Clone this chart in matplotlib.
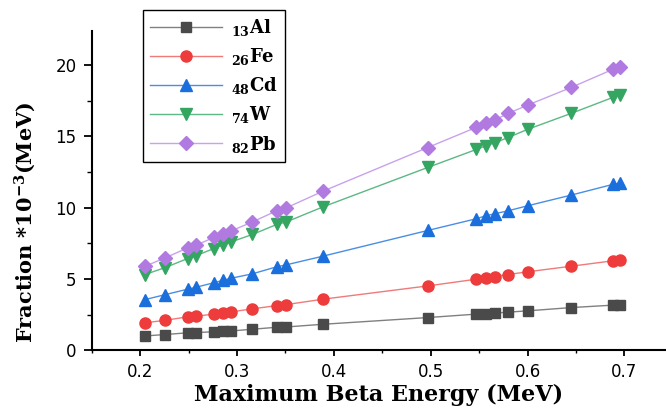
import numpy as np
import matplotlib
matplotlib.use("Agg")
import matplotlib.pyplot as plt
from matplotlib.ticker import MultipleLocator

plt.rcParams['mathtext.fontset'] = 'dejavuserif'
plt.rcParams['mathtext.default'] = 'bf'

# maximum beta energy (MeV)
energy = [0.205, 0.226, 0.249, 0.258, 0.276, 0.286, 0.294, 0.316, 0.341, 0.351,
          0.389, 0.497, 0.547, 0.557, 0.566, 0.580, 0.600, 0.645, 0.688, 0.696]

# fraction *10^-3 for each absorber
al = [1.00, 1.10, 1.22, 1.24, 1.29, 1.33, 1.35, 1.47, 1.61, 1.63,
      1.82, 2.29, 2.53, 2.56, 2.60, 2.67, 2.76, 2.99, 3.16, 3.20]
fe = [1.92, 2.10, 2.34, 2.39, 2.53, 2.62, 2.69, 2.90, 3.13, 3.20,
      3.58, 4.51, 4.98, 5.08, 5.17, 5.31, 5.50, 5.89, 6.27, 6.30]
cd = [3.55, 3.90, 4.28, 4.42, 4.73, 4.91, 5.05, 5.36, 5.85, 5.99,
      6.60, 8.40, 9.22, 9.43, 9.57, 9.78, 10.13, 10.88, 11.63, 11.70]
w = [5.31, 5.80, 6.43, 6.64, 7.13, 7.41, 7.60, 8.12, 8.82, 9.00,
     10.06, 12.82, 14.08, 14.34, 14.55, 14.92, 15.49, 16.61, 17.73, 17.89]
pb = [5.89, 6.48, 7.18, 7.37, 7.91, 8.14, 8.37, 9.00, 9.78, 9.99,
      11.16, 14.22, 15.63, 15.91, 16.14, 16.61, 17.19, 18.43, 19.70, 19.84]

labels = [r"$_{13}$Al", r"$_{26}$Fe", r"$_{48}$Cd", r"$_{74}$W", r"$_{82}$Pb"]
series = [al, fe, cd, w, pb]
markers = ["s", "o", "^", "v", "D"]
markerColors = ["#4a4a4a", "#ee3b3b", "#1a6fdc", "#35a562", "#b07ae0"]
lineColors = ["#808080", "#f07a7a", "#4a8ee4", "#5cb884", "#c8a2ec"]
markerSizes = [7, 8, 8, 8, 7]

fig = plt.figure(figsize=(6.66, 4.12), dpi=100)
ax = fig.add_axes([0.1377, 0.150, 0.8623, 0.775])

for ys, lab, mk, mc, lc, ms in zip(series, labels, markers, markerColors, lineColors, markerSizes):
    ax.plot(energy, ys, color=lc, lw=1.0, marker=mk, markersize=ms,
            markerfacecolor=mc, markeredgecolor=mc, label=lab)

ax.set_xlim(0.150, 0.743)
ax.set_ylim(0, 22.4)
ax.xaxis.set_major_locator(MultipleLocator(0.1))
ax.xaxis.set_minor_locator(MultipleLocator(0.05))
ax.yaxis.set_major_locator(MultipleLocator(5))
ax.yaxis.set_minor_locator(MultipleLocator(2.5))

for side in ["top", "right"]:
    ax.spines[side].set_visible(False)
for side in ["left", "bottom"]:
    ax.spines[side].set_linewidth(1.5)

# y ticks are longer than x ticks in the original
ax.tick_params(axis="y", which="major", direction="out", length=6, width=1.3,
               labelsize=12, pad=5)
ax.tick_params(axis="x", which="major", direction="out", length=4, width=1.3,
               labelsize=12, pad=5)
ax.tick_params(axis="y", which="minor", direction="out", length=3.5, width=1.0)
ax.tick_params(axis="x", which="minor", direction="out", length=2.5, width=1.0)
for t in ax.get_xticklabels() + ax.get_yticklabels():
    t.set_fontfamily("DejaVu Sans")

ax.set_xlabel("Maximum Beta Energy (MeV)", fontsize=16, fontweight="bold",
              family="DejaVu Serif")
ax.set_ylabel(r"Fraction *10$^{-3}$(MeV)", fontsize=15, fontweight="bold",
              family="DejaVu Serif")
ax.yaxis.set_label_coords(-0.093, 0.40)
ax.xaxis.set_label_coords(0.5, -0.105)

leg = ax.legend(loc="upper left", bbox_to_anchor=(0.089, 1.066), borderaxespad=0,
                prop={"family": "DejaVu Serif", "weight": "bold", "size": 13},
                handlelength=4.0, labelspacing=0.45, borderpad=0.4, handletextpad=0.5,
                fancybox=False, edgecolor="black", framealpha=1)
leg.get_frame().set_linewidth(1.0)

fig.savefig("out.png", dpi=100)
